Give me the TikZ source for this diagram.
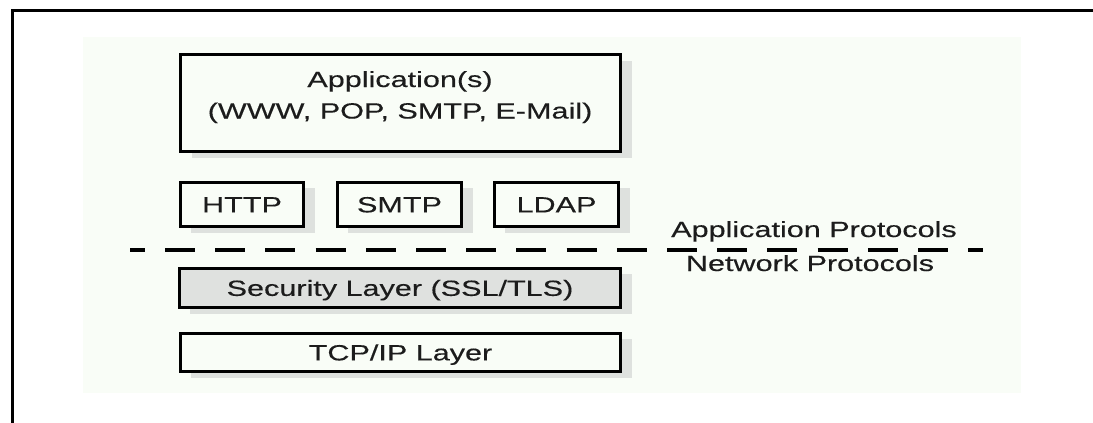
\documentclass[tikz,border=0pt]{standalone}
\usepackage{fontspec}
\setmainfont[FakeStretch=1.39,FakeBold=0.3]{Liberation Sans}
\usetikzlibrary{shadows}
\definecolor{bgc}{RGB}{249,253,247}
\definecolor{shadowc}{RGB}{222,225,222}
\definecolor{secc}{RGB}{223,225,223}
\definecolor{txt}{RGB}{28,28,28}
\begin{document}
\begin{tikzpicture}[x=1pt,y=-1pt,
  every node/.style={text=txt,font=\fontsize{22}{31}\selectfont},
  layerbox/.style={draw=black,line width=2.6pt,fill=bgc,inner sep=0pt,
    text height=15.7pt,text depth=0pt,
    general shadow={fill=shadowc,shadow xshift=11pt,shadow yshift=-6pt}},
  plain/.style={inner sep=0pt},
  sep/.style={line width=3.2pt,dash pattern=on 30pt off 20.2pt,dash phase=15.2pt}]
\useasboundingbox (0,0) rectangle (1093,423);
\fill[white] (0,0) rectangle (1093,423);
\fill[bgc] (83,37) rectangle (1021,393);
\coordinate (fb) at (12.5,423);
\coordinate (fc) at (12.5,10.5);
\coordinate (fr) at (1093,10.5);
\draw[line width=2.8pt] (fb) -- (fc) -- (fr);
% boxes
\node[layerbox,minimum width=440pt,minimum height=97pt] (app) at (400.5,103) {};
\node[plain,anchor=base] (appt1) at (400,87) {Application(s)};
\node[plain,anchor=base] (appt2) at (400,118.5) {(WWW, POP, SMTP, E-Mail)};
\node[layerbox,minimum width=123.4pt,minimum height=44.4pt] (http) at (242,204.5) {HTTP};
\node[layerbox,minimum width=124.4pt,minimum height=44.4pt] (smtp) at (399.5,204.5) {SMTP};
\node[layerbox,minimum width=124.4pt,minimum height=44.4pt] (ldap) at (556.5,204.5) {LDAP};
\node[layerbox,fill=secc,minimum width=441.4pt,minimum height=39.4pt] (sec) at (400,288) {Security Layer (SSL/TLS)};
\node[layerbox,minimum width=440.4pt,minimum height=38.4pt] (tcp) at (400.5,352.5) {TCP/IP Layer};
% separator
\coordinate (dl) at (130,250);
\coordinate (dr) at (983,250);
\draw[sep] (dl) -- (dr);
\node[plain,anchor=base] (apl) at (814,237) {Application Protocols};
\node[plain,anchor=base] (net) at (810,271) {Network Protocols};
\end{tikzpicture}
\end{document}
